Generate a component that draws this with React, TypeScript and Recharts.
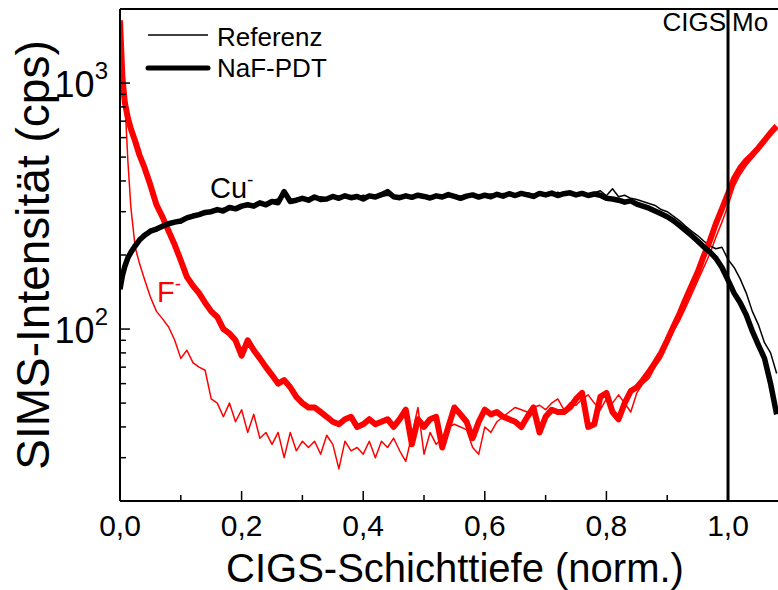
import React from 'react';
import { LineChart, Line, XAxis, YAxis, ReferenceLine } from 'recharts';

const depth = [
  0, 0.004, 0.008, 0.013, 0.018, 0.025, 0.032, 0.04,
  0.05, 0.06, 0.07, 0.08, 0.09,
  0.1, 0.11, 0.12, 0.13, 0.14, 0.15, 0.16, 0.17, 0.18, 0.19,
  0.2, 0.21, 0.22, 0.23, 0.24, 0.25, 0.26, 0.27, 0.28, 0.29,
  0.3, 0.31, 0.32, 0.33, 0.34, 0.35, 0.36, 0.37, 0.38, 0.39,
  0.4, 0.41, 0.42, 0.43, 0.44, 0.45, 0.46, 0.47, 0.48, 0.49,
  0.5, 0.51, 0.52, 0.53, 0.54, 0.55, 0.56, 0.57, 0.58, 0.59,
  0.6, 0.61, 0.62, 0.63, 0.64, 0.65, 0.66, 0.67, 0.68, 0.69,
  0.7, 0.71, 0.72, 0.73, 0.74, 0.75, 0.76, 0.77, 0.78, 0.79,
  0.8, 0.81, 0.82, 0.83, 0.84, 0.85, 0.86, 0.87, 0.88, 0.89,
  0.9, 0.91, 0.92, 0.93, 0.94, 0.95, 0.96, 0.97, 0.98, 0.99,
  1.0, 1.01, 1.02, 1.03, 1.04, 1.05, 1.06, 1.07, 1.08,
];

const fRef = [
  1800, 1250, 850, 480, 310, 215, 185, 160,
  135, 118, 110, 102, 90,
  76, 82, 73, 70, 68, 52, 50, 44, 50, 42,
  47, 38, 45, 36, 38, 34, 38, 30, 38, 32,
  35, 33, 35, 31, 37, 34, 27, 35, 32, 33,
  31, 35, 30, 35, 33, 36, 32, 29, 37, 48,
  31, 38, 34, 36, 40, 41, 40, 39, 33, 31,
  40, 38, 42, 44, 46, 48, 47, 46, 48, 49,
  47, 50, 52, 47, 50, 49, 52, 54, 50, 47,
  52, 50, 54, 50, 46, 55, 60, 63, 70, 76,
  86, 98, 108, 122, 138, 157, 178, 202, 236, 272,
  318, 380, 425, 462, 495, 530, 575, 625, 665,
];

const fNaf = [
  1800, 1050, 830, 720, 650, 580, 510, 455,
  385, 320, 285, 250, 220,
  190, 163, 150, 140, 128, 118, 112, 100, 96, 90,
  78, 90, 82, 76, 70, 65, 60, 62, 58, 53,
  50, 48, 48, 46, 44, 42, 41, 43, 44, 40,
  41, 43, 41, 42, 43, 40, 43, 47, 34, 43,
  40, 43, 44, 33, 40, 48, 45, 42, 36, 42,
  47, 45, 46, 44, 43, 42, 40, 44, 48, 38,
  44, 47, 46, 46, 48, 52, 55, 40, 41, 53,
  55, 46, 43, 50, 56, 58, 62, 67, 73, 80,
  90, 102, 115, 132, 150, 170, 198, 228, 268, 308,
  355, 410, 452, 485, 512, 545, 585, 628, 668,
];

const cuNaf = [
  145, 165, 180, 195, 205, 218, 230, 240,
  250, 255, 262, 268, 272,
  275, 283, 288, 292, 298, 300, 306, 302, 312, 308,
  316, 320, 316, 326, 320, 330, 326, 362, 330, 334,
  340, 334, 344, 336, 338, 346, 340, 348, 342, 346,
  338, 348, 344, 352, 362, 345, 342, 348, 343, 350,
  346, 341, 348, 344, 352, 346, 340, 347, 351, 344,
  350, 345, 353, 347, 355, 349, 356, 351, 346, 356,
  351, 357, 349, 355, 358, 351, 356, 349, 354, 350,
  340, 338, 334, 328, 332, 322, 316, 310, 302, 294,
  286, 276, 264, 252, 240, 228, 216, 206, 194, 178,
  158, 140, 128, 114, 98, 86, 76, 60, 45,
];

const cuRef = [
  155, 170, 185, 192, 210, 215, 235, 236,
  255, 250, 265, 262, 276,
  270, 286, 284, 296, 292, 304, 300, 310, 306, 314,
  312, 322, 320, 328, 324, 333, 338, 350, 334, 338,
  336, 342, 338, 345, 340, 342, 347, 342, 348, 341,
  350, 345, 352, 346, 350, 348, 345, 351, 346, 345,
  352, 347, 345, 350, 346, 351, 347, 352, 346, 352,
  348, 354, 348, 356, 350, 354, 352, 358, 353, 350,
  356, 352, 360, 352, 356, 354, 358, 352, 358, 365,
  348, 372, 345, 350, 340, 336, 330, 324, 318, 306,
  300, 288, 276, 262, 250, 240, 228, 218, 212, 215,
  192, 178, 160, 140, 118, 104, 88, 80, 66,
];

const xTicks = [0, 0.1, 0.2, 0.3, 0.4, 0.5, 0.6, 0.7, 0.8, 0.9, 1.0];
const xMajor = [0, 0.2, 0.4, 0.6, 0.8, 1.0];
const yTicks = [20, 30, 40, 50, 60, 70, 80, 90, 100, 200, 300, 400, 500, 600, 700, 800, 900, 1000, 2000];
const yMajor = [100, 1000];
const legendNames = ['Referenz', 'NaF-PDT'];

const data = depth.map((d, i) => ({
  depth: d,
  cuRef: cuRef[i],
  cuNaf: cuNaf[i],
  fRef: fRef[i],
  fNaf: fNaf[i],
}));

const FONT = '"Liberation Sans", Arial, Helvetica, sans-serif';

const isIn = (arr: number[], v: number) => arr.some((m) => Math.abs(m - v) < 1e-6);

const XTick = (props: any) => {
  const { x, y, payload } = props;
  const v = payload.value as number;
  const major = isIn(xMajor, v);
  return (
    <g>
      <line x1={x} x2={x} y1={y} y2={y - (major ? 10 : 6)} stroke="#000" strokeWidth={1.5} />
      {major && (
        <text x={x} y={y + 35} textAnchor="middle" fontSize={30} fontFamily={FONT} fill="#000">
          {v.toFixed(1).replace('.', ',')}
        </text>
      )}
    </g>
  );
};

const YTick = (props: any) => {
  const { x, y, payload } = props;
  const v = payload.value as number;
  const major = isIn(yMajor, v);
  const exp = Math.round(Math.log10(v));
  return (
    <g>
      <line x1={x} x2={x + (major ? 10 : 6)} y1={y} y2={y} stroke="#000" strokeWidth={1.5} />
      {major && (
        <text x={x - 12} y={y + 14} textAnchor="end" fontSize={36} fontFamily={FONT} fill="#000">
          <tspan>10</tspan>
          <tspan fontSize={24} dy={-18}>{exp}</tspan>
        </text>
      )}
    </g>
  );
};

export default function App() {
  return (
    <div style={{ position: 'absolute', left: 0, top: 0, width: 778, height: 590, background: '#fff' }}>
      <LineChart
        width={778}
        height={590}
        data={data}
        margin={{ top: 9, right: 0, bottom: 0, left: 0 }}
      >
        <XAxis
          dataKey="depth"
          type="number"
          domain={[0, 1.0822]}
          allowDataOverflow
          ticks={xTicks}
          interval={0}
          height={89}
          tickSize={0}
          tickMargin={0}
          tickLine={false}
          tick={<XTick />}
          axisLine={{ stroke: '#000', strokeWidth: 2 }}
        />
        <YAxis
          type="number"
          scale="log"
          domain={[20, 2000]}
          allowDataOverflow
          ticks={yTicks}
          interval={0}
          width={120}
          tickSize={0}
          tickMargin={0}
          tickLine={false}
          tick={<YTick />}
          axisLine={{ stroke: '#000', strokeWidth: 2 }}
        />
        <ReferenceLine y={2000} stroke="#000" strokeWidth={2} />
        <Line dataKey="fRef" stroke="#ff0000" strokeWidth={1.5} dot={false} isAnimationActive={false} strokeLinejoin="round" />
        <Line dataKey="cuRef" stroke="#000000" strokeWidth={1.5} dot={false} isAnimationActive={false} strokeLinejoin="round" />
        <Line dataKey="fNaf" stroke="#ff0000" strokeWidth={6} dot={false} isAnimationActive={false} strokeLinejoin="round" />
        <Line dataKey="cuNaf" stroke="#000000" strokeWidth={5.5} dot={false} isAnimationActive={false} strokeLinejoin="round" />
        <ReferenceLine x={1} stroke="#000" strokeWidth={3} />
      </LineChart>
      <svg
        width={778}
        height={590}
        style={{ position: 'absolute', left: 0, top: 0, pointerEvents: 'none' }}
        fontFamily={FONT}
      >
        <line x1={148} x2={208} y1={35} y2={35} stroke="#000" strokeWidth={1.5} />
        <text x={217} y={46} fontSize={26} fill="#000">{legendNames[0]}</text>
        <line x1={148} x2={208} y1={68} y2={68} stroke="#000" strokeWidth={5} strokeLinecap="round" />
        <text x={217} y={77} fontSize={26} fill="#000">{legendNames[1]}</text>
        <text x={726} y={31} fontSize={26} textAnchor="end" fill="#000">CIGS</text>
        <text x={732} y={31} fontSize={26} fill="#000">Mo</text>
        <text x={210} y={198} fontSize={29} fill="#000">
          Cu<tspan fontSize={19} dy={-12}>-</tspan>
        </text>
        <text x={157} y={302} fontSize={29} fill="#ff0000">
          F<tspan fontSize={19} dy={-12}>-</tspan>
        </text>
        <text x={455} y={582} fontSize={40} textAnchor="middle" fill="#000">CIGS-Schichttiefe (norm.)</text>
        <text
          x={0}
          y={0}
          fontSize={46}
          textAnchor="middle"
          fill="#000"
          transform="translate(49,255) rotate(-90)"
        >
          SIMS-Intensität (cps)
        </text>
      </svg>
    </div>
  );
}
